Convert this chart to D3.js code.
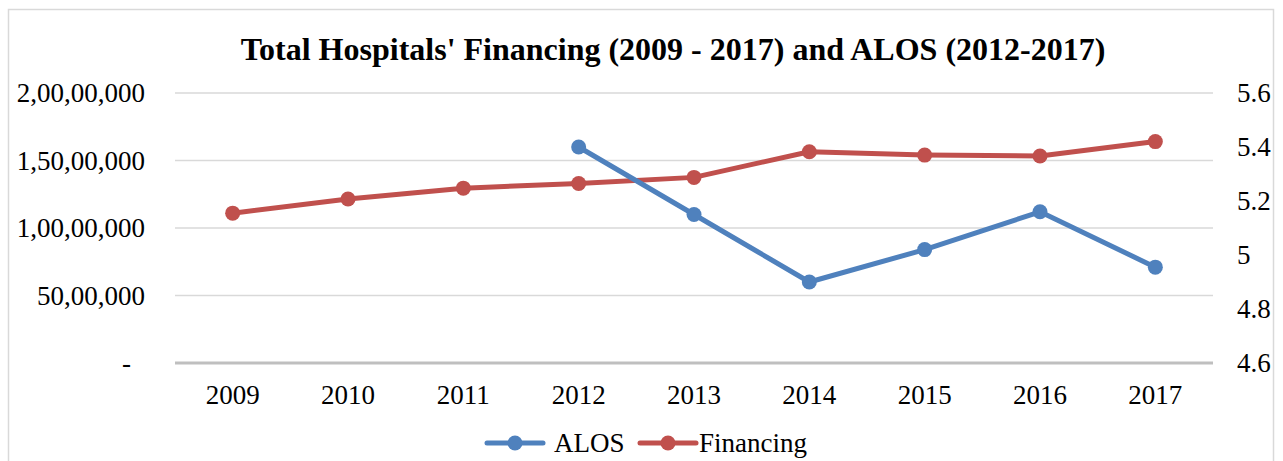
<!DOCTYPE html>
<html lang="en">
  <head>
    <meta charset="UTF-8" />
    <title>Total Hospitals' Financing and ALOS</title>
    <script src="https://cdn.jsdelivr.net/npm/d3@7"></script>
    <style>
      body { margin: 0; background: #fff; }
      svg text { font-family: 'Liberation Serif', 'Times New Roman', serif !important; fill: #000; }
    </style>
  </head>
  <body>
    <div id="chart"></div>
    <script>
      const years = ['2009', '2010', '2011', '2012', '2013', '2014', '2015', '2016', '2017']
      const financing = [11100000, 12150000, 12950000, 13300000, 13750000, 15650000, 15400000, 15330000, 16400000]
      const alosYears = ['2012', '2013', '2014', '2015', '2016', '2017']
      const alos = [5.4, 5.15, 4.9, 5.02, 5.16, 4.955]
      const leftTicks = [0, 5000000, 10000000, 15000000, 20000000]
      const rightTicks = [4.6, 4.8, 5.0, 5.2, 5.4, 5.6]

      const width = 1283, height = 461
      const m = { top: 93, right: 70, bottom: 98, left: 175 }
      const blue = '#4f81bd', red = '#c0504d'
      const fs = 27

      const svg = d3.select('#chart').append('svg')
        .attr('width', width).attr('height', height)

      // chart border
      svg.append('rect')
        .attr('x', 8.5).attr('y', 9.5)
        .attr('width', 1265).attr('height', 470)
        .attr('fill', 'none').attr('stroke', '#d9d9d9').attr('stroke-width', 1.5)

      svg.append('text')
        .attr('x', 673).attr('y', 60)
        .attr('text-anchor', 'middle')
        .style('font-size', '32px').style('font-weight', 'bold')
        .text("Total Hospitals' Financing (2009 - 2017) and ALOS (2012-2017)")

      const x = d3.scaleBand().domain(years).range([m.left, width - m.right])
      const yL = d3.scaleLinear().domain([0, 20000000]).range([height - m.bottom, m.top])
      const yR = d3.scaleLinear().domain([4.6, 5.6]).range([height - m.bottom, m.top])

      // indian digit grouping, zero shown as a dash
      const fmtIN = v => v === 0 ? '-' : v.toLocaleString('en-IN')

      // grid
      svg.append('g')
        .selectAll('line')
        .data(leftTicks.slice(1))
        .join('line')
        .attr('x1', m.left).attr('x2', width - m.right)
        .attr('y1', d => yL(d)).attr('y2', d => yL(d))
        .attr('stroke', '#d9d9d9').attr('stroke-width', 1.5)
      svg.append('line')
        .attr('x1', m.left).attr('x2', width - m.right)
        .attr('y1', yL(0)).attr('y2', yL(0))
        .attr('stroke', '#bfbfbf').attr('stroke-width', 3)

      const axisL = svg.append('g')
        .attr('transform', `translate(${m.left - 30},0)`)
        .call(d3.axisLeft(yL).tickValues(leftTicks).tickFormat(fmtIN).tickSize(0).tickPadding(0))
      const axisR = svg.append('g')
        .attr('transform', `translate(${width - m.right + 24},0)`)
        .call(d3.axisRight(yR).tickValues(rightTicks).tickFormat(d => d === 5 ? '5' : d.toFixed(1)).tickSize(0).tickPadding(0))
      const axisX = svg.append('g')
        .attr('transform', `translate(0,${height - m.bottom + 41})`)
        .call(d3.axisBottom(x).tickSize(0).tickPadding(0))

      for (const a of [axisL, axisR, axisX]) {
        a.attr('font-family', null).attr('font-size', null)
        a.select('.domain').remove()
        a.selectAll('text').style('font-size', fs + 'px')
      }
      axisX.selectAll('text').attr('dy', 0)
      // the zero dash sits a bit left, like the accounting format
      axisL.selectAll('text').filter(d => d === 0).attr('dx', -14)

      const addSeries = (cats, vals, y, color) => {
        const pts = cats.map((c, i) => [x(c) + x.bandwidth() / 2, y(vals[i])])
        svg.append('path')
          .attr('d', d3.line()(pts))
          .attr('fill', 'none')
          .attr('stroke', color).attr('stroke-width', 5)
          .attr('stroke-linejoin', 'round')
        svg.append('g').selectAll('circle')
          .data(pts).join('circle')
          .attr('cx', d => d[0]).attr('cy', d => d[1])
          .attr('r', 7.5).attr('fill', color)
      }
      addSeries(years, financing, yL, red)
      addSeries(alosYears, alos, yR, blue)

      // legend
      const legend = [
        { name: 'ALOS', color: blue, x: 487, tx: 67 },
        { name: 'Financing', color: red, x: 640, tx: 59 }
      ]
      const lg = svg.append('g').selectAll('g').data(legend).join('g')
        .attr('transform', d => `translate(${d.x},443)`)
      lg.append('line')
        .attr('x1', 0).attr('x2', 56)
        .attr('stroke', d => d.color).attr('stroke-width', 5)
        .attr('stroke-linecap', 'round')
      lg.append('circle').attr('cx', 28).attr('r', 7.5).attr('fill', d => d.color)
      lg.append('text')
        .attr('x', d => d.tx)
        .attr('y', 9)
        .style('font-size', fs + 'px')
        .text(d => d.name)
    </script>
  </body>
</html>
